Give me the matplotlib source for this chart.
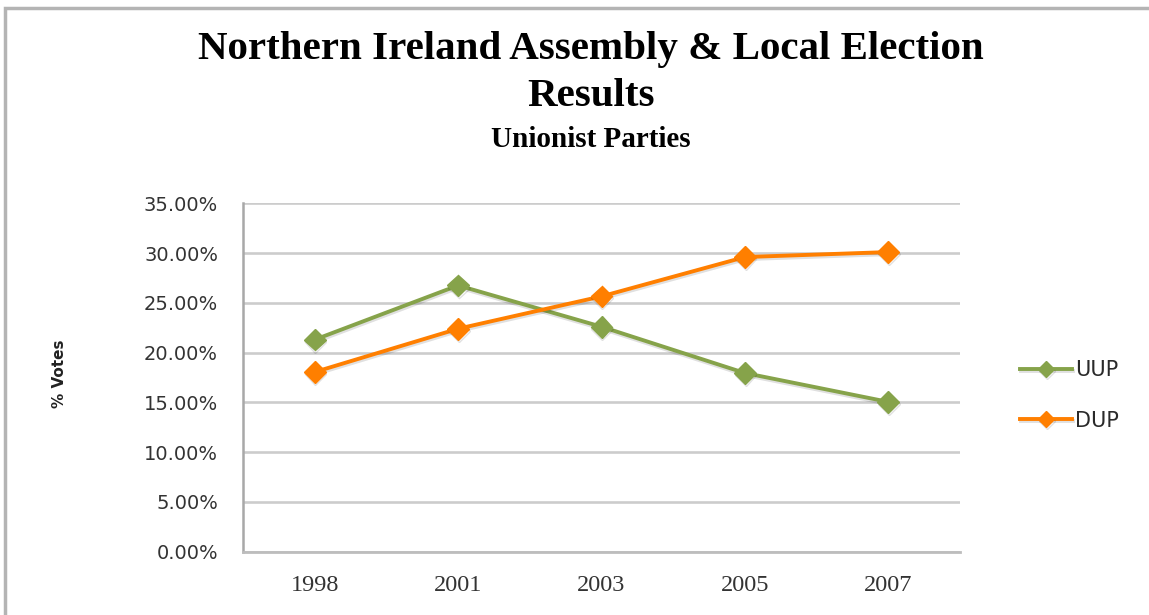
import matplotlib
matplotlib.use('Agg')
import matplotlib.pyplot as plt
import matplotlib.patheffects as pe
from matplotlib.patches import Rectangle
from matplotlib.ticker import PercentFormatter

# data
years = ['1998', '2001', '2003', '2005', '2007']
uup = [21.3, 26.75, 22.6, 17.95, 15.05]
dup = [18.05, 22.4, 25.65, 29.6, 30.1]

W, H = 1149, 615
fig = plt.figure(figsize=(W / 100, H / 100), dpi=100)

# outer chart border (right/bottom run off the picture)
fig.patches.append(Rectangle((5 / W, -0.1), 1.2, 1.1 - 8 / H,
                             transform=fig.transFigure, fill=False,
                             edgecolor='#b4b4b4', linewidth=2.5))

ax = fig.add_axes([243 / W, 1 - 551.7 / H, (960 - 243) / W, (551.7 - 203.3) / H])

# soft drop shadow like the original
shadow = [pe.SimpleLineShadow(offset=(0.5, -1.5), alpha=0.12, shadow_color='k'), pe.Normal()]
x = range(len(years))
ax.plot(x, uup, color='#86A34A', linewidth=2.8, marker='D', markersize=11,
        label='UUP', path_effects=shadow)
ax.plot(x, dup, color='#FF7F00', linewidth=2.8, marker='D', markersize=11,
        label='DUP', path_effects=shadow)

ax.set_xlim(-0.5, len(years) - 0.5)
ax.set_ylim(0, 35)
ax.set_yticks(range(0, 36, 5))
ax.yaxis.set_major_formatter(PercentFormatter(decimals=2))
ax.set_xticks(list(x))
ax.set_xticklabels(years, fontfamily='Liberation Serif', fontsize=17.5, color='#333333')
for lbl in ax.get_yticklabels():
    lbl.set_fontfamily('DejaVu Sans')
    lbl.set_fontsize(14)
    lbl.set_color('#333333')
ax.tick_params(axis='both', length=0)
ax.tick_params(axis='y', pad=18)
ax.tick_params(axis='x', pad=17)

ax.grid(axis='y', color='#cccccc', linewidth=1.9)
ax.set_axisbelow(True)
for s in ['top', 'right']:
    ax.spines[s].set_visible(False)
ax.spines['left'].set_color('#a8a8a8')
ax.spines['left'].set_linewidth(1.8)
ax.spines['bottom'].set_color('#bdbdbd')
ax.spines['bottom'].set_linewidth(2)

fig.text(60 / W, 1 - 374 / H, '% Votes', rotation=90, ha='center', va='center',
         fontfamily='DejaVu Sans', fontweight='bold', fontsize=11, color='#222222')

fig.text(591 / W, 1 - 49 / H, 'Northern Ireland Assembly & Local Election',
         ha='center', va='center', fontfamily='Liberation Serif', fontweight='bold', fontsize=29.5)
fig.text(591 / W, 1 - 97 / H, 'Results',
         ha='center', va='center', fontfamily='Liberation Serif', fontweight='bold', fontsize=29.5)
fig.text(591 / W, 1 - 139 / H, 'Unionist Parties',
         ha='center', va='center', fontfamily='Liberation Serif', fontweight='bold', fontsize=21)

leg = fig.legend(loc='center left', bbox_to_anchor=(1020 / W, 1 - 395.5 / H),
                 bbox_transform=fig.transFigure, frameon=False,
                 prop={'family': 'DejaVu Sans', 'size': 15}, handlelength=2.5,
                 handletextpad=0.15, labelspacing=1.45, markerscale=0.75,
                 borderpad=0, borderaxespad=0)
for t in leg.get_texts():
    t.set_color('#2a2a2a')

fig.savefig('out.png', dpi=100)
